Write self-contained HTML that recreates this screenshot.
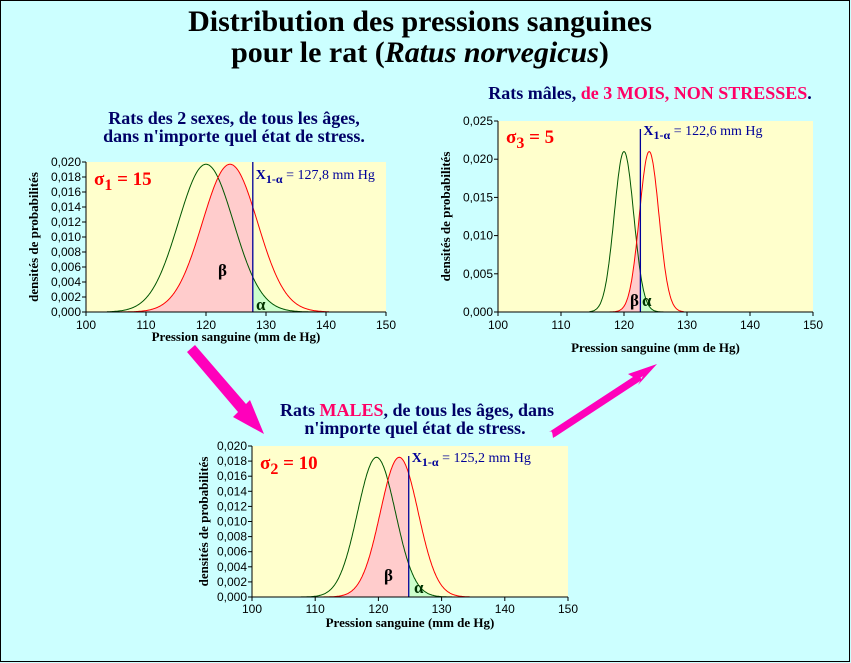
<!DOCTYPE html>
<html><head><meta charset="utf-8"><style>
html,body{margin:0;padding:0;background:#ccffff;}
svg{display:block;}
text{font-family:"Liberation Serif",serif;}
.t{font-family:"Liberation Sans",sans-serif;font-size:12px;fill:#000;}
</style></head><body>
<svg id="s" width="851" height="663" xmlns="http://www.w3.org/2000/svg">
<rect x="0.5" y="0.5" width="849" height="661" fill="#ccffff" stroke="#000"/>
<text x="420" y="31" text-anchor="middle" font-size="30" font-weight="bold">Distribution des pressions sanguines</text>
<text x="420" y="62" text-anchor="middle" font-size="30" font-weight="bold">pour le rat (<tspan font-style="italic">Ratus norvegicus</tspan>)</text>

<text x="234" y="124" text-anchor="middle" font-size="18" font-weight="bold" fill="#000066">Rats des 2 sexes, de tous les âges,</text>
<text x="234" y="142" text-anchor="middle" font-size="18" font-weight="bold" fill="#000066">dans n'importe quel état de stress.</text>

<text x="650" y="99" text-anchor="middle" font-size="18" font-weight="bold" fill="#000066">Rats mâles, <tspan fill="#ff0066">de 3 MOIS, NON STRESSES</tspan>.</text>

<text x="417" y="416" text-anchor="middle" font-size="18" font-weight="bold" fill="#000066">Rats <tspan fill="#ff0066">MALES</tspan>, de tous les âges, dans</text>
<text x="415" y="434" text-anchor="middle" font-size="18" font-weight="bold" fill="#000066">n'importe quel état de stress.</text>

<polygon points="187,352 195,345 246,404 250,400 264,434 233,417 238,412" fill="#ff00bb"/>
<polygon points="552,431 553,438 643,376 638,385 657,364 628,374 633,377 549,432" fill="#ff00bb"/>
<line x1="553" y1="434" x2="640" y2="377" stroke="#ff00bb" stroke-width="7"/>
<g id="g"></g>
</svg>
<script>
const g=document.getElementById('g');let h='';
function chart(o){
 const {L,R,T,B,ymax,ystep,mg,mr,sd,pk,xa,lab,sig,sub}=o;
 const X=v=>L+(v-100)/50*(R-L), Y=v=>B-(v/ymax)*(B-T);
 h+=`<rect x="${L}" y="${T}" width="${R-L}" height="${B-T}" fill="#ffffcc"/>`;
 const f=(x,m)=>pk*Math.exp(-((x-m)**2)/(2*sd*sd));
 const lo=o.lo,hi=o.hi;
 let p=`M${X(lo)},${B}`;for(let x=lo;x<=xa;x+=0.1)p+=`L${X(x).toFixed(1)},${Y(f(x,mr)).toFixed(1)}`;p+=`L${X(xa)},${Y(f(xa,mr))}L${X(xa)},${B}Z`;
 h+=`<path d="${p}" fill="#ffcccc"/>`;
 p=`M${X(xa)},${B}`;for(let x=xa;x<=hi;x+=0.1)p+=`L${X(x).toFixed(1)},${Y(f(x,mg)).toFixed(1)}`;p+=`L${X(hi)},${B}Z`;
 h+=`<path d="${p}" fill="#ccffcc"/>`;
 for(const [m,c] of [[mg,'#005500'],[mr,'#ff0000']]){p='';for(let x=lo;x<=hi;x+=0.1)p+=(p?'L':'M')+X(x).toFixed(1)+','+Y(f(x,m)).toFixed(1);h+=`<path d="${p}" fill="none" stroke="${c}" stroke-width="1"/>`;}
 h+=`<line x1="${X(xa)}" y1="${o.lt}" x2="${X(xa)}" y2="${B}" stroke="#000099" stroke-width="1.3"/>`;
 h+=`<line x1="${L}" y1="${T}" x2="${L}" y2="${B}" stroke="#000"/><line x1="${L}" y1="${B}" x2="${R}" y2="${B}" stroke="#000"/>`;
 for(let v=0;v<=ymax+1e-9;v+=ystep){const y=Y(v);h+=`<line x1="${L-4}" y1="${y}" x2="${L}" y2="${y}" stroke="#000"/><text class="t" x="${L-5}" y="${y+4}" text-anchor="end">${v.toFixed(3).replace('.',',')}</text>`;}
 for(let v=100;v<=150;v+=10){const x=X(v);h+=`<line x1="${x}" y1="${B}" x2="${x}" y2="${B+4}" stroke="#000"/><text class="t" x="${x}" y="${B+o.tk}" text-anchor="middle">${v}</text>`;}
 h+=`<text x="${(L+R)/2}" y="${B+o.xlo}" text-anchor="middle" font-size="13" font-weight="bold">Pression sanguine (mm de Hg)</text>`;
 h+=`<text transform="translate(${o.ylx},${(T+B)/2}) rotate(-90)" text-anchor="middle" font-size="13" font-weight="bold">densités de probabilités</text>`;
 h+=`<text x="${L+8}" y="${T+o.sy}" font-family="Liberation Sans,sans-serif" font-size="19" font-weight="bold" fill="#ff0000">σ<tspan font-size="16" dy="5">${sub}</tspan><tspan dy="-5"> = ${sig}</tspan></text>`;
 h+=`<text x="${X(xa)+3}" y="${T+o.ly}" font-size="14" font-weight="bold" fill="#000099">X<tspan font-size="12" dy="4">1-α</tspan><tspan dy="-4" font-weight="normal"> = ${lab} mm Hg</tspan></text>`;
 h+=`<text x="${o.bx}" y="${o.by}" font-size="17" font-weight="bold">β</text><text x="${o.ax}" y="${o.ay}" font-size="17" font-weight="bold" fill="#003300">α</text>`;
}
chart({L:86,R:386,T:162,B:312,ymax:0.020,ystep:0.002,mg:120,mr:124,sd:4.6,pk:0.0197,xa:127.8,lo:103.5,hi:140.5,lab:'127,8',sig:'15',sub:'1',ylx:38,xlo:29,tk:17,sy:23,ly:17,lt:162,bx:218,by:276,ax:256,ay:310});
chart({L:498,R:813,T:121,B:312,ymax:0.025,ystep:0.005,mg:120,mr:124,sd:1.55,pk:0.021,xa:122.6,lo:114.5,hi:129.5,lab:'122,6',sig:'5',sub:'3',ylx:450,xlo:40,tk:17,sy:22,ly:14,lt:129,bx:630,by:306,ax:642,ay:306});
chart({L:252,R:568,T:446,B:597,ymax:0.020,ystep:0.002,mg:119.7,mr:123.3,sd:3.0,pk:0.0185,xa:124.8,lo:107.5,hi:134.5,lab:'125,2',sig:'10',sub:'2',ylx:208,xlo:30,tk:16,sy:23,ly:16,lt:456,bx:384,by:581,ax:414,ay:593});
g.innerHTML=h;
</script>
</body></html>
